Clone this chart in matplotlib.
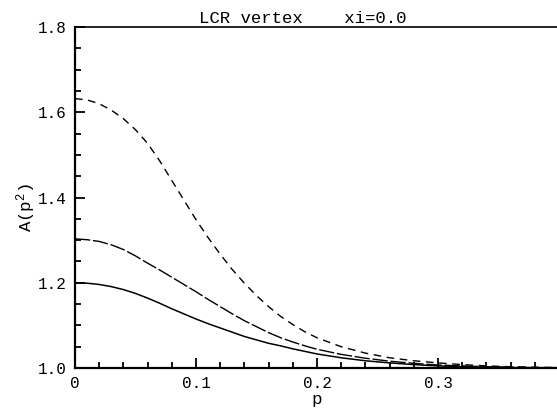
import matplotlib
from matplotlib import pyplot as plt
import numpy as np

matplotlib.rc('font', family='Liberation Mono')
matplotlib.rc('mathtext', fontset='custom', rm='Liberation Mono', it='Liberation Mono')

p = [0.00, 0.01, 0.02, 0.03, 0.04, 0.05, 0.06, 0.07, 0.08, 0.09,
     0.10, 0.11, 0.12, 0.13, 0.14, 0.15, 0.16, 0.17, 0.18, 0.19,
     0.20, 0.22, 0.24, 0.26, 0.28, 0.30, 0.32, 0.34, 0.36, 0.38, 0.40]

a_solid = [1.200, 1.199, 1.196, 1.191, 1.184, 1.175, 1.164, 1.152, 1.139, 1.127,
           1.115, 1.104, 1.094, 1.084, 1.074, 1.066, 1.058, 1.052, 1.045, 1.039,
           1.033, 1.024, 1.017, 1.012, 1.008, 1.005, 1.003, 1.002, 1.001, 1.000, 1.000]

a_longdash = [1.303, 1.301, 1.297, 1.289, 1.278, 1.263, 1.246, 1.230, 1.213, 1.196,
              1.179, 1.161, 1.144, 1.127, 1.111, 1.097, 1.083, 1.071, 1.061, 1.052,
              1.044, 1.032, 1.023, 1.016, 1.011, 1.007, 1.005, 1.003, 1.002, 1.001, 1.001]

a_shortdash = [1.632, 1.629, 1.620, 1.605, 1.585, 1.559, 1.527, 1.486, 1.440, 1.394,
               1.348, 1.306, 1.267, 1.231, 1.199, 1.170, 1.144, 1.121, 1.102, 1.085,
               1.071, 1.050, 1.035, 1.024, 1.017, 1.012, 1.008, 1.005, 1.003, 1.002, 1.001]

fig = plt.figure(figsize=(5.57, 4.09), dpi=100)
ax = fig.add_axes([0.1346, 0.1002, 0.8690, 0.8338])

ax.plot(p, a_solid, color='black', lw=1.1)
ax.plot(p, a_longdash, color='black', lw=1.0, dashes=(11, 2))
ax.plot(p, a_shortdash, color='black', lw=1.0, dashes=(5.5, 4))

ax.set_xlim(0, 0.4)
ax.set_ylim(1.0, 1.8)
ax.set_xticks([0, 0.1, 0.2, 0.3])
ax.set_xticklabels(['0', '0.1', '0.2', '0.3'])
ax.set_xticks(np.arange(0, 0.4, 0.02), minor=True)
ax.set_yticks([1.0, 1.2, 1.4, 1.6, 1.8])
ax.set_yticklabels(['1.0', '1.2', '1.4', '1.6', '1.8'])
ax.set_yticks(np.arange(1.0, 1.8, 0.05), minor=True)

ax.tick_params(which='both', direction='in', top=False, right=False,
               labelsize=11.5, width=1.3)
ax.tick_params(which='major', length=7, pad=6)
ax.tick_params(which='minor', length=4)

ax.spines['left'].set_linewidth(1.6)
ax.spines['bottom'].set_linewidth(1.6)
ax.spines['top'].set_linewidth(1.2)
ax.spines['right'].set_linewidth(0.6)

ax.set_xlabel('p', fontsize=12.5, labelpad=0.5)
ax.set_ylabel(r'A(p$^{\mathrm{2}}$)', fontsize=12.5)
ax.yaxis.set_label_coords(-0.076, 0.47)
ax.set_title('LCR vertex    xi=0.0', fontsize=12.5, pad=3, x=0.47)

plt.savefig('out.png', dpi=100)
